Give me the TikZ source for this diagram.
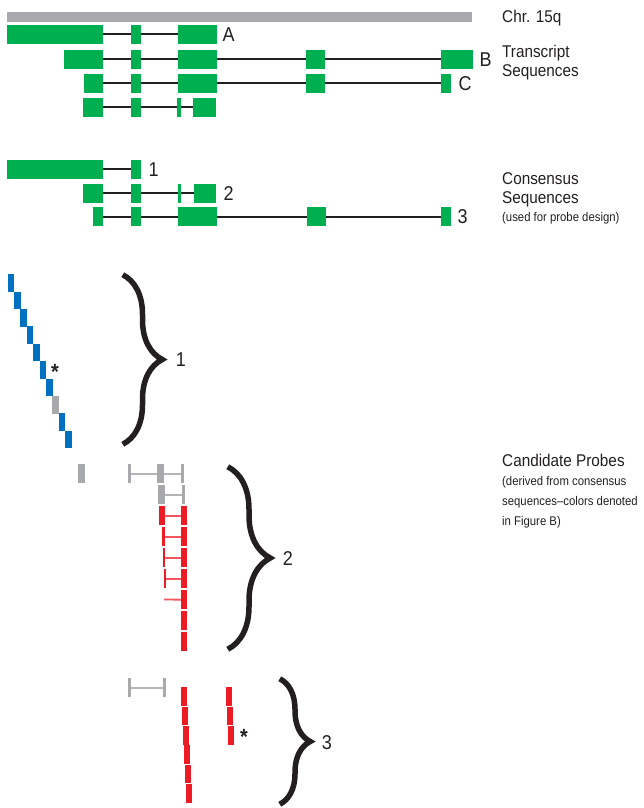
\documentclass[tikz,border=0pt]{standalone}
\usepackage{fontspec}
\setmainfont{Liberation Sans}[FakeStretch=0.9]
\usetikzlibrary{positioning,decorations.pathreplacing}
\definecolor{exongreen}{RGB}{0,176,80}
\definecolor{chrgray}{RGB}{167,169,172}
\definecolor{probeblue}{RGB}{0,112,192}
\definecolor{probered}{RGB}{237,28,36}
\definecolor{inkdark}{RGB}{35,31,32}

\begin{document}
\begin{tikzpicture}[x=1pt, y=-1pt,
    exon/.style = {fill=exongreen, inner sep=0, minimum height=18.7, anchor=west},
    intron/.style = {draw=inkdark, line width=1.8},
    probe/.style = {inner sep=0, minimum height=19, anchor=north west},
    gline/.style = {draw=chrgray!85, line width=1.8},
    rline/.style = {draw=probered!75, line width=1.8},
    lbl/.style = {inner sep=0, text=inkdark, font=\fontsize{20}{20}\selectfont},
    head/.style = {inner sep=0, anchor=base west, text=inkdark, font=\fontsize{17}{19}\selectfont},
    note/.style = {inner sep=0, anchor=base west, text=inkdark, font=\fontsize{12.6}{14}\selectfont},
    star/.style = {inner sep=0, text=inkdark, font=\fontsize{22}{22}\selectfont\bfseries},
    curly/.style = {draw=inkdark, line width=5.5, decorate, decoration={brace, amplitude=#1}}]
    \useasboundingbox (0,0) rectangle (643,808);

    \node[fill=chrgray, inner sep=0, minimum width=465, minimum height=9.5, anchor=west] (chr) at (7,17) {};
    \node[head] (chrtxt) at (502,22.7) {Chr. 15q};
    \node[head] (trtxt1) at (502,57.3) {Transcript};
    \node[head] (trtxt2) at (502,76) {Sequences};

    \foreach \xa/\xb [count=\i] in {7/103, 131/141, 178/217}
        \node[exon, minimum width=\xb-\xa] (A\i) at (\xa,34.4) {};
    \foreach \xa/\xb [count=\i] in {64/103, 131/141, 178/217, 306/325, 441/473}
        \node[exon, minimum width=\xb-\xa] (B\i) at (\xa,59.3) {};
    \foreach \xa/\xb [count=\i] in {84/103, 131/141, 178/217, 306/325, 441/451}
        \node[exon, minimum width=\xb-\xa] (C\i) at (\xa,83.3) {};
    \foreach \xa/\xb [count=\i] in {83/103, 131/141, 177/181, 193/216}
        \node[exon, minimum width=\xb-\xa] (D\i) at (\xa,107.3) {};

    \draw[intron] (A1) -- (A2) -- (A3);
    \draw[intron] (B1) -- (B2) -- (B3) -- (B4) -- (B5);
    \draw[intron] (C1) -- (C2) -- (C3) -- (C4) -- (C5);
    \draw[intron] (D1) -- (D2) -- (D3) -- (D4);

    \node[lbl] (labA) [right=5pt of A3] {A};
    \node[lbl] (labB) [right=6pt of B5] {B};
    \node[lbl] (labC) [right=7pt of C5] {C};

    \node[head] (contxt1) at (502,184) {Consensus};
    \node[head] (contxt2) at (502,203.3) {Sequences};
    \node[note] (contxt3) at (502,221.7) {(used for probe design)};

    \foreach \xa/\xb [count=\i] in {7/103, 131/141}
        \node[exon, minimum width=\xb-\xa] (one\i) at (\xa,169.3) {};
    \foreach \xa/\xb [count=\i] in {83/103, 131/141, 178/181, 194/216}
        \node[exon, minimum width=\xb-\xa] (two\i) at (\xa,193.3) {};
    \foreach \xa/\xb [count=\i] in {93/103, 131/141, 178/217, 307/326, 441/451}
        \node[exon, minimum width=\xb-\xa] (three\i) at (\xa,216.7) {};

    \draw[intron] (one1) -- (one2);
    \draw[intron] (two1) -- (two2) -- (two3) -- (two4);
    \draw[intron] (three1) -- (three2) -- (three3) -- (three4) -- (three5);

    \node[lbl] (lab1) [right=7pt of one2] {1};
    \node[lbl] (lab2) [right=7pt of two4] {2};
    \node[lbl] (lab3) [right=6pt of three5] {3};

    \foreach \k in {0,1,2,3,4,5,6,8,9}
        \node[probe, fill=probeblue, minimum width=6.7, minimum height=17.6] (blue\k) at (7.3+6.4*\k,274+17.4*\k) {};
    \node[probe, fill=chrgray, minimum width=6.7, minimum height=17.6] (blue7) at (7.3+6.4*7,274+17.4*7) {};
    \node[star] (star1) at (55,372) {*};
    \draw[curly=39.5] (122.75,274.75) -- (122.75,444.25);
    \node[lbl] (set1) at (181,360) {1};

    \node[head] (cptxt) at (502,466) {Candidate Probes};
    \node[note] (cptxt1) at (502,485) {(derived from consensus};
    \node[note] (cptxt2) at (502,505) {sequences--colors denoted};
    \node[note] (cptxt3) at (502,525) {in Figure B)};

    \node[probe, fill=chrgray, minimum width=7] (g0) at (78,464) {};
    \node[probe, fill=chrgray, minimum width=3] (ga1) at (128,464) {};
    \node[probe, fill=chrgray, minimum width=7] (ga2) at (157,464) {};
    \node[probe, fill=chrgray, minimum width=3] (ga3) at (181,464) {};
    \draw[gline] (ga1) -- (ga2) -- (ga3);
    \node[probe, fill=chrgray, minimum width=7] (gb1) at (158,485) {};
    \node[probe, fill=chrgray, minimum width=3] (gb2) at (182,485) {};
    \draw[gline] (gb1) -- (gb2);

    \foreach \k in {2,...,8}
        \node[probe, fill=probered, minimum width=5.7] (redr\k) at (181,464+21*\k) {};
    \foreach \k/\xl/\wl in {2/159/6, 3/162/2.5, 4/163/2, 5/164/1.3} {
        \node[probe, fill=probered, minimum width=\wl] (redl\k) at (\xl,464+21*\k) {};
        \draw[rline] (redl\k) -- (redr\k);
    }
    \coordinate (redl6) at (164,464+21*6+9.5);
    \draw[rline] (redl6) -- (redr6);
    \draw[curly=42.5] (227.75,466.75) -- (227.75,649.25);
    \node[lbl] (set2) at (288,559) {2};

    \node[probe, fill=chrgray, minimum width=3] (h1) at (128,678) {};
    \node[probe, fill=chrgray, minimum width=3] (h2) at (163,678) {};
    \draw[gline] (h1) -- (h2);
    \foreach \k in {0,...,5}
        \node[probe, fill=probered, minimum width=6, minimum height=18.6] (colA\k) at (181+\k,687+19.4*\k) {};
    \foreach \k in {0,1,2}
        \node[probe, fill=probered, minimum width=6, minimum height=18.6] (colB\k) at (226+\k,687+19.4*\k) {};
    \node[star] (star2) at (244,737) {*};
    \draw[curly=30.5] (279.75,678.75) -- (279.75,804.25);
    \node[lbl] (set3) at (327,743) {3};
\end{tikzpicture}
\end{document}
